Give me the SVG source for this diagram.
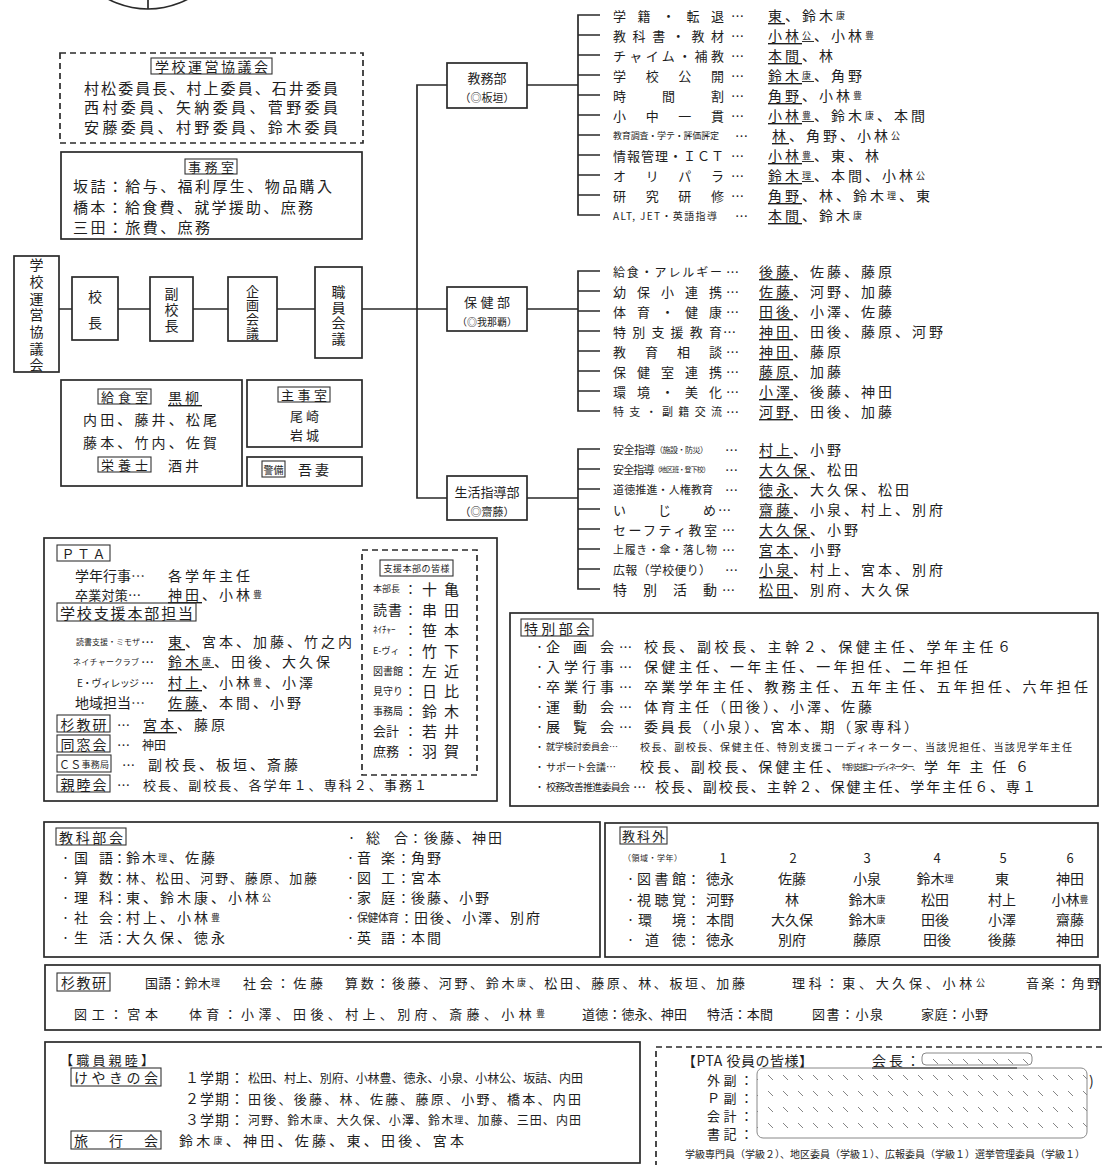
<svg xmlns="http://www.w3.org/2000/svg" width="1102" height="1165" viewBox="0 0 1102 1165">
<defs>
<style>
text{font-family:"Noto Sans CJK JP","Noto Sans",sans-serif;fill:#1e1e1e;dominant-baseline:central}
.box{fill:none;stroke:#2a2a2a;stroke-width:1.7}
.tb{fill:none;stroke:#333;stroke-width:1.1}
.dash{fill:none;stroke:#2a2a2a;stroke-width:1.7;stroke-dasharray:6 4}
.ln{fill:none;stroke:#2a2a2a;stroke-width:1.7}
.f15{font-size:15px}.f14{font-size:14px}.f13{font-size:13px}.f12{font-size:12px}.f11{font-size:11px}.f10{font-size:10px}.f9{font-size:9px}.f8{font-size:8px}.f7{font-size:7px}
.s{font-size:9px}
.nm{font-size:14px;letter-spacing:3px}
.n2{font-size:14px;letter-spacing:2px}
.u{text-decoration:underline}
.m{text-anchor:middle}
.vt{writing-mode:vertical-rl;text-anchor:middle}
.hatch{fill:url(#hatch);stroke:#888;stroke-width:1}
</style>
<pattern id="hatch" width="15" height="16" patternUnits="userSpaceOnUse">
<path d="M3 3L8 8" stroke="#777" stroke-width="0.9"/>
</pattern>
</defs>
<rect width="1102" height="1165" fill="#fff"/>

<g id="emblem" class="ln">
<circle cx="148" cy="-76" r="85"/>
<path d="M148 0V9"/>
</g>

<g id="connectors" class="ln">
<path d="M59 309H72M118 309H150M193 309H228M277 309H315M362 309H447"/>
<path d="M447 85H417V498H447"/>
<path d="M527 85H578M600 15H578V215H600M578 35H600M578 55H600M578 75H600M578 95H600M578 115H600M578 135H600M578 155H600M578 175H600M578 195H600"/>
<path d="M527 309H578M600 271H578V411H600M578 291H600M578 311H600M578 331H600M578 351H600M578 371H600M578 391H600"/>
<path d="M527 498H578M600 449H578V589H600M578 469H600M578 489H600M578 509H600M578 529H600M578 549H600M578 569H600"/>
</g>

<g id="unei-kyogikai">
<rect class="dash" x="60" y="53" width="303" height="90"/>
<rect class="tb" x="151" y="58" width="121" height="16"/>
<text class="f14 m" x="211.5" y="66" textLength="113" lengthAdjust="spacing">学校運営協議会</text>
<text class="f15" x="84" y="87" textLength="254" lengthAdjust="spacing">村松委員長、村上委員、石井委員</text>
<text class="f15" x="84" y="106" textLength="254" lengthAdjust="spacing">西村委員、矢納委員、菅野委員</text>
<text class="f15" x="84" y="126" textLength="254" lengthAdjust="spacing">安藤委員、村野委員、鈴木委員</text>
</g>

<g id="jimushitsu">
<rect class="box" x="61" y="152" width="301" height="87"/>
<rect class="tb" x="185" y="159" width="52" height="15"/>
<text class="f13 m" x="211" y="166.5" textLength="46" lengthAdjust="spacing">事務室</text>
<text class="f15" x="73" y="185" textLength="259" lengthAdjust="spacing">坂詰：給与、福利厚生、物品購入</text>
<text class="f15" x="73" y="206" textLength="240" lengthAdjust="spacing">橋本：給食費、就学援助、庶務</text>
<text class="f15" x="73" y="226" textLength="137" lengthAdjust="spacing">三田：旅費、庶務</text>
</g>

<g id="unei-v">
<rect class="box" x="14" y="256" width="45" height="116"/>
<text class="f14 vt" x="36.5" y="316.3" style="letter-spacing:2.7px">学校運営協議会</text>
</g>
<g id="kocho">
<rect class="box" x="72" y="277" width="46" height="63"/>
<text class="f14 vt" x="95" y="316" style="letter-spacing:12px">校長</text>
</g>
<g id="fukukocho">
<rect class="box" x="150" y="277" width="43" height="64"/>
<text class="f14 vt" x="171.5" y="311" style="letter-spacing:2px">副校長</text>
</g>
<g id="kikaku">
<rect class="box" x="228" y="277" width="49" height="64"/>
<text class="f13 vt" x="252.5" y="312.5" style="letter-spacing:1px">企画会議</text>
</g>
<g id="shokuin">
<rect class="box" x="315" y="267" width="47" height="91"/>
<text class="f14 vt" x="338.5" y="316" style="letter-spacing:1.5px">職員会議</text>
</g>

<g id="kyushoku">
<rect class="box" x="61" y="380" width="181" height="106"/>
<rect class="tb" x="98" y="389" width="53" height="15"/>
<text class="f13 m" x="124.5" y="396.5" textLength="47" lengthAdjust="spacing">給食室</text>
<text class="nm u" x="168" y="397">黒柳</text>
<text class="f14" x="83" y="419" textLength="134" lengthAdjust="spacing">内田、藤井、松尾</text>
<text class="f14" x="83" y="442" textLength="134" lengthAdjust="spacing">藤本、竹内、佐賀</text>
<rect class="tb" x="98" y="457" width="53" height="15"/>
<text class="f13 m" x="124.5" y="464.5" textLength="47" lengthAdjust="spacing">栄養士</text>
<text class="nm" x="168" y="465">酒井</text>
</g>
<g id="shujishitsu">
<rect class="box" x="247" y="380" width="115" height="67"/>
<rect class="tb" x="278" y="387" width="52" height="15"/>
<text class="f13 m" x="304" y="394.5" textLength="46" lengthAdjust="spacing">主事室</text>
<text class="f13 m" x="306" y="415" style="letter-spacing:3px">尾崎</text>
<text class="f13 m" x="306" y="434" style="letter-spacing:3px">岩城</text>
</g>
<g id="keibi">
<rect class="box" x="247" y="457" width="115" height="29"/>
<rect class="tb" x="262" y="461" width="23" height="16"/>
<text class="f10 m" x="273.5" y="469">警備</text>
<text class="nm" x="298" y="469">吾妻</text>
</g>

<g id="kyomubu">
<rect class="box" x="447" y="63" width="80" height="45"/>
<text class="f13 m" x="487" y="77">教務部</text>
<text class="f11 m" x="487" y="97">（◎板垣）</text>
</g>
<g id="kyomubu-items">
<text class="f13" x="613" y="15" textLength="111" lengthAdjust="spacing">学籍・転退</text>
<text class="f13" x="613" y="35" textLength="111" lengthAdjust="spacing">教科書・教材</text>
<text class="f13" x="613" y="55" textLength="111" lengthAdjust="spacing">チャイム・補教</text>
<text class="f13" x="613" y="75" textLength="111" lengthAdjust="spacing">学校公開</text>
<text class="f13" x="613" y="95" textLength="111" lengthAdjust="spacing">時間割</text>
<text class="f13" x="613" y="115" textLength="111" lengthAdjust="spacing">小中一貫</text>
<text class="f9" x="613" y="135" textLength="106" lengthAdjust="spacing">教育調査・学テ・評価評定</text>
<text class="f13" x="613" y="155" textLength="111" lengthAdjust="spacing">情報管理・ＩＣＴ</text>
<text class="f13" x="613" y="175" textLength="111" lengthAdjust="spacing">オリパラ</text>
<text class="f13" x="613" y="195" textLength="111" lengthAdjust="spacing">研究研修</text>
<text class="f10" x="613" y="215" textLength="104" lengthAdjust="spacing">ALT, JET・英語指導</text>
<g class="f13">
<text x="731" y="15">…</text><text x="731" y="35">…</text><text x="731" y="55">…</text><text x="731" y="75">…</text><text x="731" y="95">…</text><text x="731" y="115">…</text><text x="735" y="135">…</text><text x="731" y="155">…</text><text x="731" y="175">…</text><text x="731" y="195">…</text><text x="735" y="215">…</text>
</g>
<text class="nm" x="768" y="15"><tspan class="u">東</tspan>、鈴木<tspan class="s">康</tspan></text>
<text class="nm" x="768" y="35"><tspan class="u">小林<tspan class="s">公</tspan></tspan>、小林<tspan class="s">豊</tspan></text>
<text class="nm" x="768" y="55"><tspan class="u">本間</tspan>、林</text>
<text class="nm" x="768" y="75"><tspan class="u">鈴木<tspan class="s">康</tspan></tspan>、角野</text>
<text class="nm" x="768" y="95"><tspan class="u">角野</tspan>、小林<tspan class="s">豊</tspan></text>
<text class="nm" x="768" y="115"><tspan class="u">小林<tspan class="s">豊</tspan></tspan>、鈴木<tspan class="s">康</tspan>、本間</text>
<text class="nm" x="772" y="135"><tspan class="u">林</tspan>、角野、小林<tspan class="s">公</tspan></text>
<text class="nm" x="768" y="155"><tspan class="u">小林<tspan class="s">豊</tspan></tspan>、東、林</text>
<text class="nm" x="768" y="175"><tspan class="u">鈴木<tspan class="s">理</tspan></tspan>、本間、小林<tspan class="s">公</tspan></text>
<text class="nm" x="768" y="195"><tspan class="u">角野</tspan>、林、鈴木<tspan class="s">理</tspan>、東</text>
<text class="nm" x="768" y="215"><tspan class="u">本間</tspan>、鈴木<tspan class="s">康</tspan></text>
</g>

<g id="hokenbu">
<rect class="box" x="447" y="287" width="80" height="44"/>
<text class="f13 m" x="487" y="301" textLength="46" lengthAdjust="spacing">保健部</text>
<text class="f10 m" x="487" y="321">（◎我那覇）</text>
</g>
<g id="hokenbu-items">
<text class="f12" x="613" y="271" textLength="109" lengthAdjust="spacing">給食・アレルギー</text>
<text class="f13" x="613" y="291" textLength="109" lengthAdjust="spacing">幼保小連携</text>
<text class="f13" x="613" y="311" textLength="109" lengthAdjust="spacing">体育・健康</text>
<text class="f13" x="613" y="331" textLength="109" lengthAdjust="spacing">特別支援教育</text>
<text class="f13" x="613" y="351" textLength="109" lengthAdjust="spacing">教育相談</text>
<text class="f13" x="613" y="371" textLength="109" lengthAdjust="spacing">保健室連携</text>
<text class="f13" x="613" y="391" textLength="109" lengthAdjust="spacing">環境・美化</text>
<text class="f11" x="613" y="411" textLength="109" lengthAdjust="spacing">特支・副籍交流</text>
<g class="f13">
<text x="726" y="271">…</text><text x="726" y="291">…</text><text x="726" y="311">…</text><text x="723" y="331">…</text><text x="726" y="351">…</text><text x="726" y="371">…</text><text x="726" y="391">…</text><text x="726" y="411">…</text>
</g>
<text class="nm" x="759" y="271"><tspan class="u">後藤</tspan>、佐藤、藤原</text>
<text class="nm" x="759" y="291"><tspan class="u">佐藤</tspan>、河野、加藤</text>
<text class="nm" x="759" y="311"><tspan class="u">田後</tspan>、小澤、佐藤</text>
<text class="nm" x="759" y="331"><tspan class="u">神田</tspan>、田後、藤原、河野</text>
<text class="nm" x="759" y="351"><tspan class="u">神田</tspan>、藤原</text>
<text class="nm" x="759" y="371"><tspan class="u">藤原</tspan>、加藤</text>
<text class="nm" x="759" y="391"><tspan class="u">小澤</tspan>、後藤、神田</text>
<text class="nm" x="759" y="411"><tspan class="u">河野</tspan>、田後、加藤</text>
</g>

<g id="seikatsu">
<rect class="box" x="447" y="476" width="80" height="44"/>
<text class="f13 m" x="487" y="491">生活指導部</text>
<text class="f11 m" x="487" y="511">（◎齋藤）</text>
</g>
<g id="seikatsu-items">
<text x="613" y="449" textLength="95" lengthAdjust="spacing"><tspan class="f11">安全指導</tspan><tspan class="f8">（施設・防災）</tspan></text>
<text x="613" y="469" textLength="97" lengthAdjust="spacing"><tspan class="f11">安全指導</tspan><tspan class="f7">（地区班・登下校）</tspan></text>
<text class="f11" x="613" y="489" textLength="100" lengthAdjust="spacing">道徳推進・人権教育</text>
<text class="f13" x="613" y="509" textLength="103" lengthAdjust="spacing">いじめ</text>
<text class="f13" x="613" y="529" textLength="104" lengthAdjust="spacing">セーフティ教室</text>
<text class="f11" x="613" y="549" textLength="104" lengthAdjust="spacing">上履き・傘・落し物</text>
<text class="f12" x="613" y="569" textLength="98" lengthAdjust="spacing">広報（学校便り）</text>
<text class="f14" x="613" y="589" textLength="104" lengthAdjust="spacing">特別活動</text>
<g class="f13">
<text x="725" y="449">…</text><text x="725" y="469">…</text><text x="725" y="489">…</text><text x="718" y="509">…</text><text x="722" y="529">…</text><text x="722" y="549">…</text><text x="725" y="569">…</text><text x="722" y="589">…</text>
</g>
<text class="nm" x="759" y="449"><tspan class="u">村上</tspan>、小野</text>
<text class="nm" x="759" y="469"><tspan class="u">大久保</tspan>、松田</text>
<text class="nm" x="759" y="489"><tspan class="u">徳永</tspan>、大久保、松田</text>
<text class="nm" x="759" y="509"><tspan class="u">齋藤</tspan>、小泉、村上、別府</text>
<text class="nm" x="759" y="529"><tspan class="u">大久保</tspan>、小野</text>
<text class="nm" x="759" y="549"><tspan class="u">宮本</tspan>、小野</text>
<text class="nm" x="759" y="569"><tspan class="u">小泉</tspan>、村上、宮本、別府</text>
<text class="nm" x="759" y="589"><tspan class="u">松田</tspan>、別府、大久保</text>
</g>

<g id="pta">
<rect class="box" x="44" y="538" width="453" height="263"/>
<rect class="tb" x="57" y="545" width="53" height="16"/>
<text class="f13 m" x="83.5" y="553" textLength="44" lengthAdjust="spacing">ＰＴＡ</text>
<text class="f14" x="75" y="575">学年行事…</text>
<text class="nm" x="168" y="575">各学年主任</text>
<text class="f13" x="75" y="594" textLength="66" lengthAdjust="spacing">卒業対策…</text>
<text class="nm" x="168" y="594"><tspan class="u">神田</tspan>、小林<tspan class="s">豊</tspan></text>
<rect class="tb" x="57" y="603" width="139" height="18"/>
<text class="f15" x="60" y="612" textLength="133" lengthAdjust="spacing">学校支援本部担当</text>
<text class="f8" x="76" y="641" textLength="64" lengthAdjust="spacing">読書支援・ミモザ</text>
<text class="f13" x="141" y="641">…</text>
<text class="nm" x="168" y="641"><tspan class="u">東</tspan>、宮本、加藤、竹之内</text>
<text class="f8" x="73" y="661" textLength="66" lengthAdjust="spacing">ネイチャークラブ</text>
<text class="f13" x="141" y="661">…</text>
<text class="nm" x="168" y="661"><tspan class="u">鈴木<tspan class="s">康</tspan></tspan>、田後、大久保</text>
<text class="f10" x="77" y="682" textLength="62" lengthAdjust="spacing">E・ヴィレッジ</text>
<text class="f13" x="141" y="682">…</text>
<text class="nm" x="168" y="682"><tspan class="u">村上</tspan>、小林<tspan class="s">豊</tspan>、小澤</text>
<text class="f14" x="75" y="702">地域担当…</text>
<text class="nm" x="168" y="702"><tspan class="u">佐藤</tspan>、本間、小野</text>
<rect class="tb" x="57" y="715" width="53" height="17"/>
<text class="f14 m" x="83.5" y="724" textLength="46" lengthAdjust="spacing">杉教研</text>
<text class="f13" x="117" y="724">…</text>
<text class="nm" x="143" y="724"><tspan class="u">宮本</tspan>、藤原</text>
<rect class="tb" x="57" y="735" width="53" height="17"/>
<text class="f14 m" x="83.5" y="744" textLength="46" lengthAdjust="spacing">同窓会</text>
<text class="f13" x="117" y="744">…</text>
<text class="f12" x="142" y="744">神田</text>
<rect class="tb" x="57" y="755" width="54" height="17"/>
<text x="59" y="764" textLength="50" lengthAdjust="spacing"><tspan class="f11">ＣＳ</tspan><tspan class="f9">事務局</tspan></text>
<text class="f13" x="122" y="764">…</text>
<text class="nm" x="148" y="764">副校長、板垣、斎藤</text>
<rect class="tb" x="57" y="775" width="53" height="17"/>
<text class="f14 m" x="83.5" y="784" textLength="46" lengthAdjust="spacing">親睦会</text>
<text class="f13" x="117" y="784">…</text>
<text class="f13" x="143" y="784" textLength="284" lengthAdjust="spacing">校長、副校長、各学年１、専科２、事務１</text>
</g>

<g id="shien-honbu">
<rect class="dash" x="362" y="550" width="115" height="225"/>
<rect class="tb" x="380" y="560" width="73" height="16"/>
<text class="f9 m" x="416.5" y="568" textLength="66" lengthAdjust="spacing">支援本部の皆様</text>
<text class="f9" x="373" y="588">本部長</text>
<text class="f14" x="373" y="609" textLength="29" lengthAdjust="spacing">読書</text>
<text class="f9" x="373" y="629">ﾈｲﾁｬｰ</text>
<text class="f9" x="373" y="650">E-ヴィ</text>
<text class="f10" x="373" y="670">図書館</text>
<text class="f10" x="373" y="690">見守り</text>
<text class="f10" x="373" y="710">事務局</text>
<text class="f13" x="373" y="730">会計</text>
<text class="f13" x="373" y="750">庶務</text>
<g class="f13">
<text x="404" y="588">：</text><text x="404" y="609">：</text><text x="404" y="629">：</text><text x="404" y="650">：</text><text x="404" y="670">：</text><text x="404" y="690">：</text><text x="404" y="710">：</text><text x="404" y="730">：</text><text x="404" y="750">：</text>
</g>
<g class="f15">
<text x="422" y="588" textLength="37" lengthAdjust="spacing">十亀</text>
<text x="422" y="609" textLength="37" lengthAdjust="spacing">串田</text>
<text x="422" y="629" textLength="37" lengthAdjust="spacing">笹本</text>
<text x="422" y="650" textLength="37" lengthAdjust="spacing">竹下</text>
<text x="422" y="670" textLength="37" lengthAdjust="spacing">左近</text>
<text x="422" y="690" textLength="37" lengthAdjust="spacing">日比</text>
<text x="422" y="710" textLength="37" lengthAdjust="spacing">鈴木</text>
<text x="422" y="730" textLength="37" lengthAdjust="spacing">若井</text>
<text x="422" y="750" textLength="37" lengthAdjust="spacing">羽賀</text>
</g>
</g>

<g id="tokubetsu-bukai">
<rect class="box" x="510" y="613" width="588" height="193"/>
<rect class="tb" x="521" y="619" width="72" height="17"/>
<text class="f14" x="524" y="627.5" textLength="66" lengthAdjust="spacing">特別部会</text>
<g class="f9">
<text x="535" y="646">・</text><text x="535" y="666">・</text><text x="535" y="686">・</text><text x="535" y="706">・</text><text x="535" y="726">・</text><text x="535" y="746">・</text><text x="535" y="766">・</text><text x="535" y="786">・</text>
</g>
<text class="f14" x="546" y="646" textLength="68" lengthAdjust="spacing">企画会</text>
<text class="f14" x="546" y="666" textLength="68" lengthAdjust="spacing">入学行事</text>
<text class="f14" x="546" y="686" textLength="68" lengthAdjust="spacing">卒業行事</text>
<text class="f14" x="546" y="706" textLength="68" lengthAdjust="spacing">運動会</text>
<text class="f14" x="546" y="726" textLength="68" lengthAdjust="spacing">展覧会</text>
<text class="f9" x="546" y="746">就学検討委員会…</text>
<text class="f10" x="546" y="766">サポート会議…</text>
<text class="f10" x="546" y="786" textLength="84" lengthAdjust="spacing">校務改善推進委員会</text>
<g class="f13">
<text x="619" y="646">…</text><text x="619" y="666">…</text><text x="619" y="686">…</text><text x="619" y="706">…</text><text x="619" y="726">…</text><text x="633" y="786">…</text>
</g>
<text class="f14" x="644" y="646" textLength="367" lengthAdjust="spacing">校長、副校長、主幹２、保健主任、学年主任６</text>
<text class="f14" x="644" y="666" textLength="324" lengthAdjust="spacing">保健主任、一年主任、一年担任、二年担任</text>
<text class="f14" x="644" y="686" textLength="444" lengthAdjust="spacing">卒業学年主任、教務主任、五年主任、五年担任、六年担任</text>
<text class="f14" x="644" y="706" textLength="228" lengthAdjust="spacing">体育主任（田後）、小澤、佐藤</text>
<text class="f14" x="644" y="726" textLength="274" lengthAdjust="spacing">委員長（小泉）、宮本、期（家専科）</text>
<text class="f10" x="640" y="746" textLength="432" lengthAdjust="spacing">校長、副校長、保健主任、特別支援コーディネーター、当該児担任、当該児学年主任</text>
<text class="f14" x="640" y="766" textLength="200" lengthAdjust="spacing">校長、副校長、保健主任、</text>
<text class="f8" x="842" y="766" textLength="78" lengthAdjust="spacing">特別支援コーディネーター、</text>
<text class="f14" x="924" y="766" textLength="105" lengthAdjust="spacing">学年主任６</text>
<text class="f14" x="655" y="786" textLength="381" lengthAdjust="spacing">校長、副校長、主幹２、保健主任、学年主任６、専１</text>
</g>

<g id="kyoka-bukai">
<rect class="box" x="44" y="822" width="556" height="135"/>
<rect class="tb" x="56" y="828" width="70" height="17"/>
<text class="f14" x="59" y="836.5" textLength="64" lengthAdjust="spacing">教科部会</text>
<g class="f9">
<text x="61" y="857">・</text><text x="61" y="877">・</text><text x="61" y="897">・</text><text x="61" y="917">・</text><text x="61" y="937">・</text>
</g>
<g class="f13">
<text x="113" y="857">：</text><text x="113" y="877">：</text><text x="113" y="897">：</text><text x="113" y="917">：</text><text x="113" y="937">：</text>
</g>
<text class="f14" x="74" y="857" textLength="39" lengthAdjust="spacing">国語</text>
<text class="f14" x="74" y="877" textLength="39" lengthAdjust="spacing">算数</text>
<text class="f14" x="74" y="897" textLength="39" lengthAdjust="spacing">理科</text>
<text class="f14" x="74" y="917" textLength="39" lengthAdjust="spacing">社会</text>
<text class="f14" x="74" y="937" textLength="39" lengthAdjust="spacing">生活</text>
<text class="n2" x="126" y="857">鈴木<tspan class="s">理</tspan>、佐藤</text>
<text class="f13" x="126" y="877" textLength="191" lengthAdjust="spacing">林、松田、河野、藤原、加藤</text>
<text class="nm" x="126" y="897">東、鈴木康、小林<tspan class="s">公</tspan></text>
<text class="nm" x="126" y="917">村上、小林<tspan class="s">豊</tspan></text>
<text class="nm" x="126" y="937">大久保、徳永</text>
<g class="f9">
<text x="347" y="837">・</text><text x="346" y="857">・</text><text x="346" y="877">・</text><text x="346" y="897">・</text><text x="346" y="917">・</text><text x="346" y="937">・</text>
</g>
<g class="f13">
<text x="409" y="837">：</text><text x="397" y="857">：</text><text x="397" y="877">：</text><text x="397" y="897">：</text><text x="400" y="917">：</text><text x="397" y="937">：</text>
</g>
<text class="f14" x="366" y="837" textLength="42" lengthAdjust="spacing">総合</text>
<text class="f14" x="357" y="857" textLength="38" lengthAdjust="spacing">音楽</text>
<text class="f14" x="357" y="877" textLength="38" lengthAdjust="spacing">図工</text>
<text class="f14" x="357" y="897" textLength="38" lengthAdjust="spacing">家庭</text>
<text class="f11" x="357" y="917" textLength="42" lengthAdjust="spacing">保健体育</text>
<text class="f14" x="357" y="937" textLength="38" lengthAdjust="spacing">英語</text>
<text class="n2" x="424" y="837">後藤、神田</text>
<text class="n2" x="411" y="857">角野</text>
<text class="n2" x="411" y="877">宮本</text>
<text class="n2" x="411" y="897">後藤、小野</text>
<text class="n2" x="414" y="917">田後、小澤、別府</text>
<text class="n2" x="411" y="937">本間</text>
</g>

<g id="kyokagai">
<rect class="box" x="605" y="823" width="493" height="134"/>
<rect class="tb" x="620" y="827" width="47" height="17"/>
<text class="f13" x="622" y="835.5" textLength="43" lengthAdjust="spacing">教科外</text>
<text class="f8" x="623" y="857" textLength="59" lengthAdjust="spacing">（領域・学年）</text>
<g class="f13 m">
<text x="723" y="857">1</text><text x="793" y="857">2</text><text x="867" y="857">3</text><text x="937" y="857">4</text><text x="1003" y="857">5</text><text x="1070" y="857">6</text>
</g>
<g class="f9">
<text x="626" y="878">・</text><text x="626" y="899">・</text><text x="626" y="919">・</text><text x="626" y="939">・</text>
</g>
<g class="f13">
<text x="687" y="878">：</text><text x="687" y="899">：</text><text x="687" y="919">：</text><text x="687" y="939">：</text>
</g>
<text class="f14" x="637" y="878" textLength="49" lengthAdjust="spacing">図書館</text>
<text class="f14" x="637" y="899" textLength="49" lengthAdjust="spacing">視聴覚</text>
<text class="f14" x="638" y="919" textLength="48" lengthAdjust="spacing">環境</text>
<text class="f14" x="645" y="939" textLength="41" lengthAdjust="spacing">道徳</text>
<g class="f14 m">
<text x="720" y="878">徳永</text><text x="792" y="878">佐藤</text><text x="867" y="878">小泉</text><text x="935" y="878">鈴木<tspan class="s">理</tspan></text><text x="1002" y="878">東</text><text x="1070" y="878">神田</text>
<text x="720" y="899">河野</text><text x="792" y="899">林</text><text x="867" y="899">鈴木<tspan class="s">康</tspan></text><text x="935" y="899">松田</text><text x="1002" y="899">村上</text><text x="1070" y="899">小林<tspan class="s">豊</tspan></text>
<text x="720" y="919">本間</text><text x="792" y="919">大久保</text><text x="867" y="919">鈴木<tspan class="s">康</tspan></text><text x="935" y="919">田後</text><text x="1002" y="919">小澤</text><text x="1070" y="919">齋藤</text>
<text x="720" y="939">徳永</text><text x="792" y="939">別府</text><text x="867" y="939">藤原</text><text x="937" y="939">田後</text><text x="1002" y="939">後藤</text><text x="1070" y="939">神田</text>
</g>
</g>

<g id="sugikyoken">
<rect class="box" x="45" y="965" width="1055" height="65"/>
<rect class="tb" x="57" y="973" width="53" height="18"/>
<text class="f14 m" x="83.5" y="982" textLength="45" lengthAdjust="spacing">杉教研</text>
<text class="f13" x="145" y="982" textLength="75" lengthAdjust="spacing">国語：鈴木<tspan class="s">理</tspan></text>
<text class="f13" x="243" y="982" textLength="80" lengthAdjust="spacing">社会：佐藤</text>
<text class="f13" x="345" y="982" textLength="400" lengthAdjust="spacing">算数：後藤、河野、鈴木<tspan class="s">康</tspan>、松田、藤原、林、板垣、加藤</text>
<text class="f13" x="792" y="982" textLength="193" lengthAdjust="spacing">理科：東、大久保、小林<tspan class="s">公</tspan></text>
<text class="f13" x="1026" y="982" textLength="74" lengthAdjust="spacing">音楽：角野</text>
<text class="f13" x="74" y="1013" textLength="84" lengthAdjust="spacing">図工：宮本</text>
<text class="f13" x="189" y="1013" textLength="356" lengthAdjust="spacing">体育：小澤、田後、村上、別府、斎藤、小林<tspan class="s">豊</tspan></text>
<text class="f13" x="582" y="1013" textLength="105" lengthAdjust="spacing">道徳：徳永、神田</text>
<text class="f13" x="707" y="1013" textLength="66" lengthAdjust="spacing">特活：本間</text>
<text class="f13" x="812" y="1013" textLength="71" lengthAdjust="spacing">図書：小泉</text>
<text class="f13" x="921" y="1013" textLength="67" lengthAdjust="spacing">家庭：小野</text>
</g>

<g id="shinboku">
<rect class="box" x="45" y="1042" width="595" height="121"/>
<text class="f13" x="60" y="1059" textLength="94" lengthAdjust="spacing">【職員親睦】</text>
<rect class="tb" x="71" y="1068" width="90" height="18"/>
<text class="f14" x="74" y="1077" textLength="84" lengthAdjust="spacing">けやきの会</text>
<text class="f14" x="185" y="1077" textLength="59" lengthAdjust="spacing">１学期：</text>
<text class="f12" x="248" y="1077" textLength="335" lengthAdjust="spacing">松田、村上、別府、小林豊、徳永、小泉、小林公、坂詰、内田</text>
<text class="f14" x="185" y="1098" textLength="59" lengthAdjust="spacing">２学期：</text>
<text class="f13" x="248" y="1098" textLength="333" lengthAdjust="spacing">田後、後藤、林、佐藤、藤原、小野、橋本、内田</text>
<text class="f14" x="185" y="1119" textLength="59" lengthAdjust="spacing">３学期：</text>
<text class="f12" x="248" y="1119" textLength="333" lengthAdjust="spacing">河野、鈴木<tspan class="s">康</tspan>、大久保、小澤、鈴木<tspan class="s">理</tspan>、加藤、三田、内田</text>
<rect class="tb" x="71" y="1131" width="90" height="18"/>
<text class="f14" x="74" y="1140" textLength="84" lengthAdjust="spacing">旅行会</text>
<text class="f14" x="179" y="1140" textLength="285" lengthAdjust="spacing">鈴木<tspan class="s">康</tspan>、神田、佐藤、東、田後、宮本</text>
</g>

<g id="pta-yakuin">
<rect class="dash" x="656" y="1047" width="470" height="140"/>
<text class="f14" x="682" y="1060" textLength="131" lengthAdjust="spacing">【PTA 役員の皆様】</text>
<text class="f14" x="872" y="1060" textLength="48" lengthAdjust="spacing">会長：</text>
<path class="ln" d="M872 1068H1017" stroke-width="1.2"/>
<rect class="hatch" x="922" y="1053" width="110" height="12" rx="4"/>
<text class="f13" x="707" y="1079" textLength="46" lengthAdjust="spacing">外副：</text>
<text class="f13" x="707" y="1097" textLength="46" lengthAdjust="spacing">Ｐ副：</text>
<text class="f13" x="707" y="1115" textLength="46" lengthAdjust="spacing">会計：</text>
<text class="f13" x="707" y="1133" textLength="46" lengthAdjust="spacing">書記：</text>
<rect class="hatch" x="757" y="1068" width="330" height="70" rx="6"/>
<text class="f14" x="1089" y="1080">)</text>
<text class="f10" x="685" y="1153" textLength="400" lengthAdjust="spacing">学級専門員（学級２）、地区委員（学級１）、広報委員（学級１）選挙管理委員（学級１）</text>
</g>
</svg>
